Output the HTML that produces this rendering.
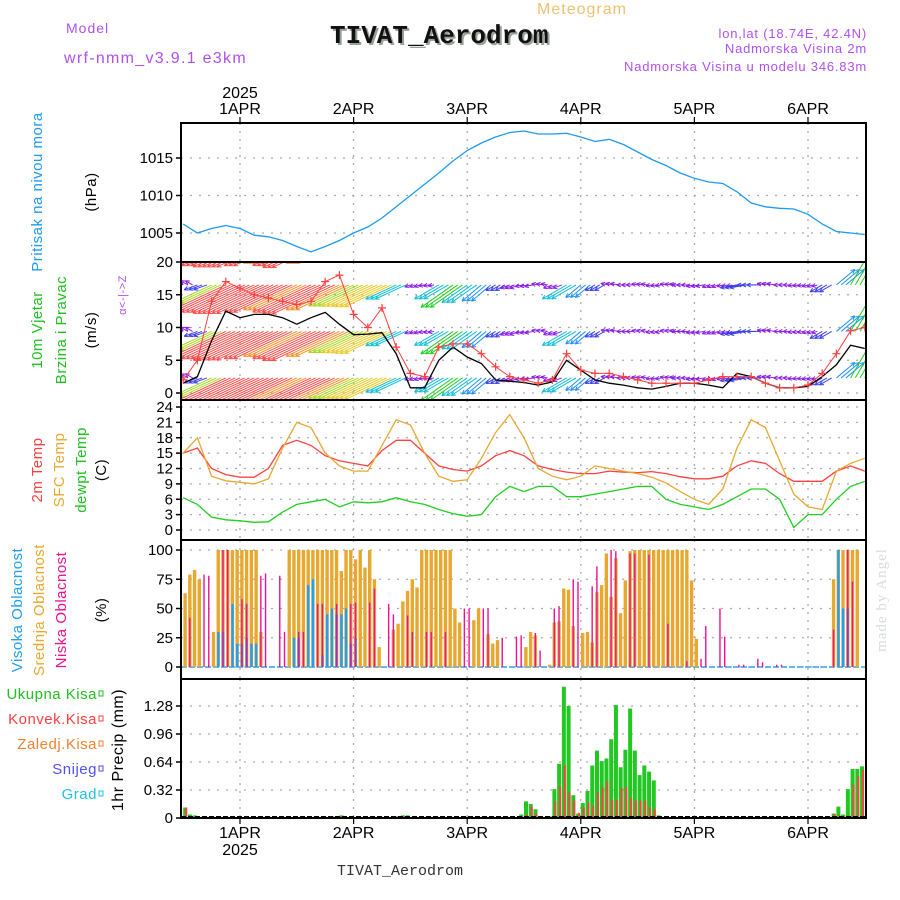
<!DOCTYPE html>
<html><head><meta charset="utf-8"><style>
body{margin:0;background:#fff;}
svg{display:block;font-family:"Liberation Sans",sans-serif;}
</style></head><body>
<svg id="c" width="900" height="900" viewBox="0 0 900 900" xmlns="http://www.w3.org/2000/svg">
<rect width="900" height="900" fill="#fff"/>
<text x="582" y="14" font-size="16" fill="#f0c070" text-anchor="middle" letter-spacing="1">Meteogram</text>
<text x="66" y="33" font-size="14" fill="#b050f0" letter-spacing="1">Model</text>
<text x="64" y="63" font-size="16" fill="#b050f0" letter-spacing="1.3">wrf-nmm_v3.9.1 e3km</text>
<text x="332" y="45" font-size="26" font-weight="bold" fill="#9aa09a" font-family="Liberation Mono, monospace">TIVAT_Aerodrom</text>
<text x="330" y="43" font-size="26" font-weight="bold" fill="#111" font-family="Liberation Mono, monospace">TIVAT_Aerodrom</text>
<text x="867" y="38" font-size="13" fill="#b050f0" text-anchor="end" letter-spacing="0.8">lon,lat (18.74E, 42.4N)</text>
<text x="867" y="53" font-size="13" fill="#b050f0" text-anchor="end" letter-spacing="0.8">Nadmorska Visina 2m</text>
<text x="867" y="71" font-size="13" fill="#b050f0" text-anchor="end" letter-spacing="0.8">Nadmorska Visina u modelu 346.83m</text>
<text x="400" y="875" font-size="15" fill="#333" text-anchor="middle" font-family="Liberation Mono, monospace">TIVAT_Aerodrom</text>
<text transform="translate(886,600) rotate(-90)" font-size="15" fill="#d8ddd8" text-anchor="middle" font-family="Liberation Serif, serif" letter-spacing="1">made by Angel</text>
<g id="g"></g>
</svg>
<script>
const dayLabels=["1APR","2APR","3APR","4APR","5APR","6APR"];
const dayHours=[0,24,48,72,96,120];
const pressure=[1006.2,1005,1005.6,1006,1005.6,1004.7,1004.5,1004,1003.2,1002.5,1003.2,1004,1005,1005.8,1007,1008.5,1010,1011.5,1013,1014.6,1016,1017,1017.8,1018.4,1018.6,1018.2,1018.2,1018.3,1017.8,1017.2,1017.5,1016.8,1015.8,1014.8,1014,1013,1012.3,1011.8,1011.6,1010.5,1009,1008.5,1008.3,1008.2,1007.5,1006.2,1005.2,1005,1004.8];
const windSpeed=[1.5,2.5,8,12.5,11.5,12,12,11.5,10.5,11.5,12.3,10.5,8.9,9,9.2,6,0.8,0.8,5,7,5.5,4.5,2,1.8,1.6,1.2,1.7,5,3.5,2,1.5,1.2,0.8,0.6,1,1.5,1.5,1.2,0.8,3,2.5,1.5,0.8,0.8,1,2.5,4.3,7.3,6.8];
const windGust=[2,5,14,17,16,15,14.5,14,13.5,14,17,18,12,10,13,7,3,2.5,7,7.5,7.5,6,4,2.5,2,1.5,2,6,3.5,3,3,2.5,2,1.5,1.5,1.5,1.5,2,2.5,2.5,2.5,1.5,0.8,0.8,1.2,3,6,9.5,10];
const windDir=[120,70,65,65,65,65,65,65,65,65,65,65,65,65,65,65,70,80,60,55,55,50,60,70,80,100,70,60,50,60,100,90,100,80,100,90,80,70,75,80,90,100,90,80,75,60,230,210,200];
const temp2m=[15,16,12,10.8,10.3,10.3,12,16.5,17.5,16.5,14.5,13.5,13,12.5,15.5,17.5,17.5,15,12.5,11.8,11.5,12.5,14.5,15.5,14.5,12.5,11.8,11.3,11,11,11.5,11.3,11.2,11.4,11,10.4,10,10,10.5,12.5,13.5,13,11,9.5,9.5,9.5,11.5,12.5,11.5];
const tempSfc=[15,18,10.5,9.6,9.3,9,10,16,21,20,15,12.5,11.5,11.5,16.5,21.5,20.5,15,10.5,9.5,9.8,14,19,22.5,18,12,10.5,9.8,10.5,12.5,12,11.5,11,10.3,9.2,7.5,6,5,8,16,21.5,20,13.5,7,4.5,4,11.5,13,14];
const tempDew=[6.3,5,2.5,2,1.8,1.5,1.6,3.5,5,5.5,6,4.5,5.5,5.3,5.5,6.3,5.5,5,4,3.2,2.7,3,6.5,8.5,7.5,8.5,8.5,6.5,6.5,7,7.5,8,8.5,8.5,6,5,4.5,4,5,6.5,8,8,6,0.5,3,3,6,8.5,9.5];
const midHours=[-12,-11,-10,-9,-6,-5,-4,-3,-2,-1,0,1,2,3,4,10,11,12,13,14,15,16,17,18,19,20,21,22,23,24,25,26,27,28,29,32,33,34,35,36,37,38,39,40,41,42,43,44,45,46,49,50,52,53,54,60,61,62,65,66,67,68,69,70,72,73,74,75,76,77,78,79,80,81,82,83,84,85,86,87,88,89,90,91,92,93,94,95,96,125,126,127,128,129,130];
const midVals=[63,79,83,75,30,100,100,100,100,100,100,100,100,100,30,100,100,100,100,100,100,100,100,100,100,100,82,100,100,92,100,85,100,75,17,32,37,56,65,75,68,100,100,100,100,100,100,100,50,38,40,50,28,20,23,17,30,27,2,38,39,67,66,35,29,30,21,64,70,97,60,93,46,74,99,100,100,100,100,100,100,100,100,100,100,100,100,74,24,75,100,100,100,100,100];
const lowHours=[-11,-8,-7,-4,-3,0,1,4,5,8,9,12,13,16,17,20,23,24,27,28,31,32,35,36,39,40,43,47,48,51,52,55,58,59,62,63,66,67,70,71,74,75,78,79,82,83,86,90,94,97,98,101,102,105,106,109,110,113,114,125,128,129];
const lowVals=[42,79,78,100,100,58,54,78,80,78,30,30,30,54,54,54,54,55,55,67,54,45,44,30,30,30,30,50,50,50,50,25,26,27,29,14,50,52,75,73,69,86,100,99,97,97,96,37,5,7,35,50,26,2,2,7,4,2,2,32,100,73];
const highHours=[-5,-4,-2,-1,0,1,2,3,11,12,14,15,17,18,19,20,21,22,23,24,126,127,128];
const highVals=[30,30,54,20,20,25,20,20,25,25,70,75,10,45,50,45,45,50,20,25,100,50,50];
const precHours=[-12,-11,-10,19,20,21,33,34,35,59,60,61,62,65,66,67,68,69,70,71,72,73,74,75,76,77,78,79,80,81,82,83,84,85,86,87,88,125,126,127,128,129,130,131];
const precTotal=[0.12,0.04,0.03,0.02,0.02,0.03,0.02,0.03,0.03,0.04,0.19,0.16,0.1,0.02,0.33,0.62,1.5,1.28,0.26,0.05,0.17,0.31,0.6,0.77,0.65,0.68,0.9,1.29,0.58,0.78,1.25,0.77,0.49,0.6,0.53,0.43,0.03,0.05,0.13,0.04,0.33,0.56,0.56,0.59];
const precConv=[0.12,0.02,0.01,0.01,0.01,0.02,0.01,0.02,0.02,0.02,0.04,0.13,0.05,0.01,0.19,0.36,0.6,0.29,0.2,0.06,0.12,0.18,0.14,0.29,0.35,0.42,0.21,0.21,0.34,0.35,0.23,0.2,0.2,0.2,0.12,0.1,0.02,0.05,0.03,0.02,0.03,0.38,0.48,0.55];
const pTicks=[1005,1010,1015], wTicks=[0,5,10,15,20], tTicks=[0,3,6,9,12,15,18,21,24], cTicks=[0,25,50,75,100], rTicks=[0,0.32,0.64,0.96,1.28];
const rTickLabels=["0","0.32","0.64","0.96","1.28"];

const NS="http://www.w3.org/2000/svg";
const G=document.getElementById('g');
function mk(tag,attrs,parent){const e=document.createElementNS(NS,tag);for(const k in attrs)e.setAttribute(k,attrs[k]);(parent||G).appendChild(e);return e;}
const X0=181,X1=866;
function X(h){return 240+h*113.6/24;}
function hs(i){return -12+3*i;}
const P={p:[123,262],w:[262,400],t:[400,540],c:[540,679],r:[679,818]};
function Yp(v){return 233-(v-1005)*7.5;}
function Yw(v){return 393-v*6.55;}
function Yt(v){return 530-v*5.125;}
function Yc(v){return 667-v*1.17;}
function Yr(v){return 818-v*87.5;}

const defs=mk('defs',{});
for(const k in P){const cp=mk('clipPath',{id:'clip-'+k},defs);mk('rect',{x:X0,y:P[k][0],width:X1-X0,height:P[k][1]-P[k][0]},cp);}

function grid(key,ticks,Y,labels){
  const g=mk('g',{});
  
  
  ticks.forEach((t,i)=>{
    const y=Y(t);
    const l=mk('line',{x1:X0,x2:X1,y1:y,y2:y,stroke:'#aaa','stroke-width':1.3,'stroke-dasharray':'2,7'},g);
    
    
    mk('line',{x1:X0-5,x2:X0,y1:y,y2:y,stroke:'#000','stroke-width':1.5},g);
    const tx=mk('text',{x:X0-8,y:y+5,'font-size':15,'text-anchor':'end',fill:'#000'},g);
    tx.textContent=labels?labels[i]:String(t);
    
    
  });
  dayHours.forEach(h=>{
    const l=mk('line',{x1:X(h),x2:X(h),y1:P[key][0],y2:P[key][1],stroke:'#aaa','stroke-width':1.3,'stroke-dasharray':'2,6'},g);
    
    
  });
}
grid('p',pTicks,Yp);grid('w',wTicks,Yw);grid('t',tTicks,Yt);grid('c',cTicks,Yc);grid('r',rTicks,Yr,rTickLabels);

function line(arr,Y,color,key,name,w){
  const pts=arr.map((v,i)=>X(hs(i)).toFixed(1)+','+Y(v).toFixed(1)).join(' ');
  const e=mk('polyline',{points:pts,fill:'none',stroke:color,'stroke-width':w||1.3,'clip-path':'url(#clip-'+key+')'});
  
  
  return e;
}
line(pressure,Yp,'#1e9af0','p','pressure-line');

function wcol(s){if(s<2)return'#8a1ee8';if(s<3.5)return'#3a40f0';if(s<5)return'#1e90ff';if(s<6.5)return'#10c0d8';if(s<8)return'#20d020';if(s<9)return'#a8d820';if(s<10)return'#e8c820';if(s<11.2)return'#ff8c28';return'#ff4848';}
const wg=mk('g',{'clip-path':'url(#clip-w)'});


const rows=[2.3,9.4,16.5,23.6];
windDir.forEach((d,i)=>{
  const s=windSpeed[i], L=Math.max(6,s*5.6), a=d*Math.PI/180;
  const u=-Math.sin(a), v=-Math.cos(a), c=wcol(s);
  for(let k=0;k<3;k++){
    const x=X(hs(i)+k);
    rows.forEach(r=>{
      const y=Yw(r);
      const ex=x+L*u, ey=y - L*v;
      const ar=mk('line',{x1:x,y1:y,x2:ex,y2:ey,stroke:c,'stroke-width':1},wg);
      
      
      const ang=Math.atan2(ey-y,ex-x);
      [0.45,-0.45].forEach(o=>{mk('line',{x1:ex,y1:ey,x2:ex-4.5*Math.cos(ang+o),y2:ey-4.5*Math.sin(ang+o),stroke:c,'stroke-width':1},wg);});
    });
  }
});
line(windSpeed,Yw,'#000','w','wind-speed-line');
line(windGust,Yw,'#ff4040','w','wind-gust-line',1);
const gm=mk('g',{'clip-path':'url(#clip-w)'});


windGust.forEach((v,i)=>{const x=X(hs(i)),y=Yw(v);
  mk('path',{d:`M${x-4},${y}H${x+4}M${x},${y-4}V${y+4}`,stroke:'#ff4040','stroke-width':1.2},gm);});

line(temp2m,Yt,'#ff4040','t','temp-2m-line');
line(tempSfc,Yt,'#e8a830','t','temp-sfc-line');
line(tempDew,Yt,'#20d020','t','dewpoint-line');

const cg=mk('g',{'clip-path':'url(#clip-c)'});


mk('line',{x1:X0,x2:X1,y1:Yc(0),y2:Yc(0),stroke:'#30a0f0','stroke-width':1.5,'stroke-dasharray':'6,2'},cg);
midHours.forEach((h,i)=>{const b=mk('rect',{x:X(h)+0.2,y:Yc(midVals[i]),width:3.4,height:Yc(0)-Yc(midVals[i]),fill:'#e8a830'},cg);
  });
highHours.forEach((h,i)=>{const b=mk('rect',{x:X(h)+0.8,y:Yc(highVals[i]),width:2.4,height:Yc(0)-Yc(highVals[i]),fill:'#20a0f0'},cg);
  });
lowHours.forEach((h,i)=>{const b=mk('rect',{x:X(h)+1.2,y:Yc(lowVals[i]),width:1.4,height:Yc(0)-Yc(lowVals[i]),fill:'#f01090'},cg);
  });

const rg=mk('g',{'clip-path':'url(#clip-r)'});


precHours.forEach((h,i)=>{
  const b=mk('rect',{x:X(h),y:Yr(precTotal[i]),width:4,height:Yr(0)-Yr(precTotal[i]),fill:'#22c822'},rg);
  
  const c=mk('rect',{x:X(h)+2,y:Yr(precConv[i]),width:2,height:Yr(0)-Yr(precConv[i]),fill:'#ff4040'},rg);
  
});
mk('line',{x1:X0,x2:X1,y1:817,y2:817,stroke:'#000','stroke-width':2,'stroke-dasharray':'5,2'},rg);

for(const k in P){const r=mk('rect',{x:X0,y:P[k][0],width:X1-X0,height:P[k][1]-P[k][0],fill:'none',stroke:'#000','stroke-width':2});
  }
dayHours.forEach((h,i)=>{
  mk('line',{x1:X(h),x2:X(h),y1:117,y2:123,stroke:'#000','stroke-width':1.2});
  mk('line',{x1:X(h),x2:X(h),y1:818,y2:824,stroke:'#000','stroke-width':1.2});
  const t=mk('text',{x:X(h),y:114,'font-size':16,'text-anchor':'middle'});t.textContent=dayLabels[i];
  
  const b=mk('text',{x:X(h),y:838,'font-size':16,'text-anchor':'middle'});b.textContent=dayLabels[i];
  
});
const y1=mk('text',{x:X(0),y:98,'font-size':16,'text-anchor':'middle'});y1.textContent='2025';

const y2=mk('text',{x:X(0),y:855,'font-size':16,'text-anchor':'middle'});y2.textContent='2025';


function rt(x,y,txt,col,name,fs){const t=mk('text',{transform:`translate(${x},${y}) rotate(-90)`,'font-size':fs||15,'text-anchor':'middle',fill:col,'letter-spacing':0.5});t.textContent=txt;
  }
rt(42,192,'Pritisak na nivou mora','#1e9af0','pressure-axis-title');
rt(96,192,'(hPa)','#000','pressure-unit');
rt(42,330,'10m Vjetar','#20c020','wind-axis-title');
rt(66,330,'Brzina i Pravac','#20c020','wind-axis-subtitle');
rt(96,330,'(m/s)','#000','wind-unit');
rt(126,295,'α<-|->Z','#b050f0','wind-compass',11);
rt(42,470,'2m Temp','#ff4040','temp-2m-title');
rt(64,470,'SFC Temp','#e8a830','temp-sfc-title');
rt(86,470,'dewpt Temp','#20c020','dewpoint-title');
rt(106,470,'(C)','#000','temp-unit');
rt(22,610,'Visoka Oblacnost','#20a0f0','high-cloud-title');
rt(44,610,'Srednja Oblacnost','#e8a830','mid-cloud-title');
rt(66,610,'Niska Oblacnost','#f01090','low-cloud-title');
rt(106,610,'(%)','#000','cloud-unit');
rt(123,750,'1hr Precip (mm)','#000','precip-axis-title',16);
const leg=[['Ukupna Kisa','#20c020',699],['Konvek.Kisa','#ff4040',724],['Zaledj.Kisa','#f08030',749],['Snijeg','#5050f0',774],['Grad','#20c0e0',799]];
leg.forEach(l=>{const t=mk('text',{x:97,y:l[2],'font-size':15,'text-anchor':'end',fill:l[1],'letter-spacing':0.5});t.textContent=l[0];
  
  const s=mk('rect',{x:99,y:l[2]-8,width:4,height:5,fill:'none',stroke:l[1],'stroke-width':1});
  });
</script>
</body></html>
